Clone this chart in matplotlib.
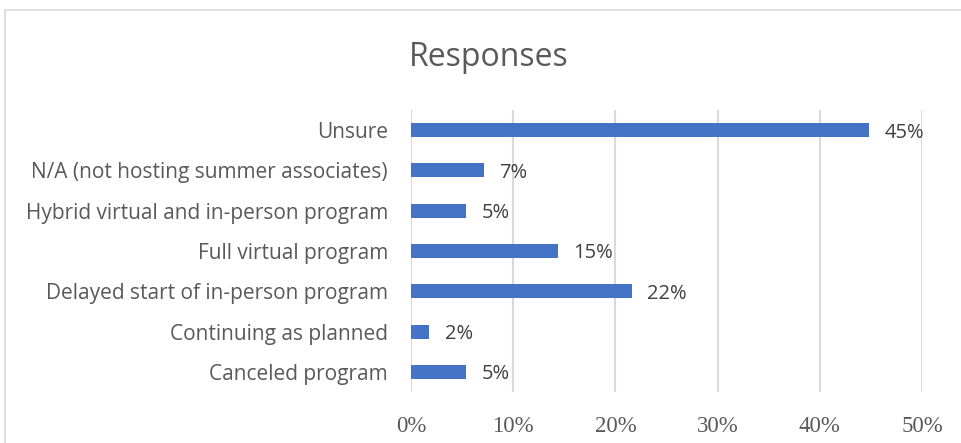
import matplotlib.pyplot as plt
from matplotlib.patches import Rectangle

# Datos (de arriba hacia abajo en la gráfica)
categorias = ["Unsure", "N/A (not hosting summer associates)", "Hybrid virtual and in-person program",
              "Full virtual program", "Delayed start of in-person program", "Continuing as planned",
              "Canceled program"]
valores = [44.8, 7.1, 5.4, 14.4, 21.6, 1.8, 5.4]
etiquetas = ["45%", "7%", "5%", "15%", "22%", "2%", "5%"]
ticks = [0, 10, 20, 30, 40, 50]
tick_labels = ["0%", "10%", "20%", "30%", "40%", "50%"]

fig = plt.figure(figsize=(9.62, 4.43), dpi=100)
ax = fig.add_axes([411 / 962, 1 - 392 / 443, (922 - 411) / 962, (392 - 110) / 443])

# marco del gráfico
fig.patches.append(Rectangle((5 / 962, -0.1), 1.0, 1.1 - 10 / 443, transform=fig.transFigure,
                             fill=False, edgecolor='#d9d9d9', linewidth=1.2))

pos = list(range(len(categorias)))[::-1]
ax.barh(pos, valores, height=0.35, color='#4472c4', zorder=3)
for p, v, e in zip(pos, valores, etiquetas):
    ax.text(v + 1.5, p - 0.06, e, va='center', ha='left', fontsize=14.5, color='#404040', family='Open Sans')

ax.set_xlim(0, 50)
ax.set_ylim(-0.5, len(categorias) - 0.5)
ax.set_xticks(ticks)
ax.set_xticklabels(tick_labels, family='Liberation Serif', fontsize=16.5, color='#595959')
ax.set_yticks(pos)
ax.set_yticklabels(categorias, family='Open Sans', fontsize=15, color='#595959')
ax.tick_params(length=0, axis='both')
ax.tick_params(axis='x', pad=17)
ax.tick_params(axis='y', pad=16.5)
ax.grid(axis='x', color='#d9d9d9', linewidth=1.5, zorder=0)
for s in ax.spines.values():
    s.set_visible(False)

fig.text(489 / 962, 1 - 58 / 443, "Responses", ha='center', va='center', fontsize=23,
         color='#595959', family='Open Sans')

fig.savefig("out.png", dpi=100)
